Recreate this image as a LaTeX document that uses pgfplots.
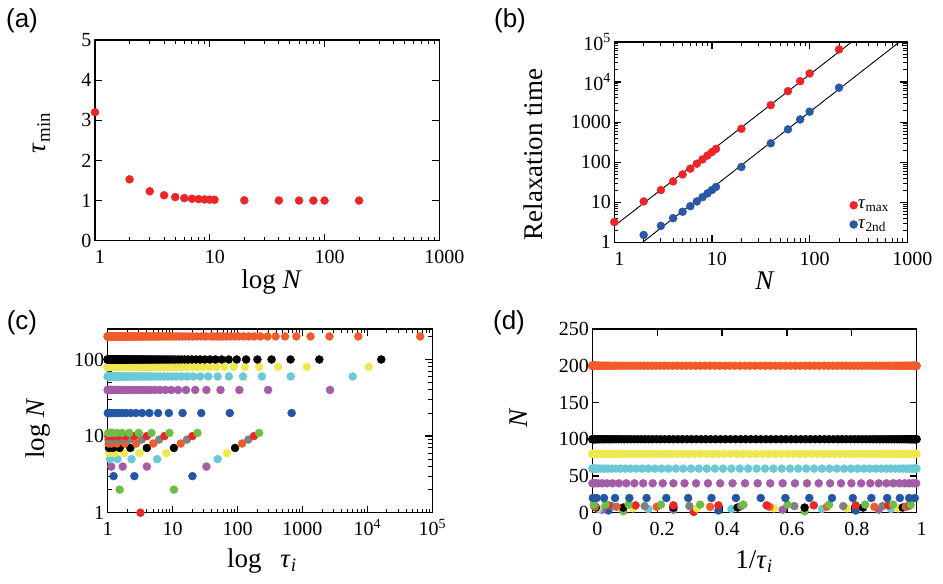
\documentclass[border=0pt]{standalone}
\usepackage{fontspec}
\setmainfont{Liberation Serif}
\newfontfamily\panelfont{Liberation Sans}
\usepackage{pgfplots}
\usepackage{pgfplotstable}
\pgfplotsset{compat=1.18}

\definecolor{cRed}{RGB}{235,38,40}
\definecolor{cGreen}{RGB}{110,190,70}
\definecolor{cBlue}{RGB}{36,86,166}
\definecolor{cPurple}{RGB}{164,92,166}
\definecolor{cCyan}{RGB}{106,201,212}
\definecolor{cYellow}{RGB}{236,232,78}
\definecolor{cOrange}{RGB}{241,90,41}
\definecolor{cGray}{RGB}{128,128,128}
\definecolor{cBlueB}{RGB}{42,88,168}

\pgfplotscreateplotcyclelist{ninecolors}{%
cRed,mark=*\\cGreen,mark=*\\cBlue,mark=*\\cPurple,mark=*\\cCyan,mark=*\\cYellow,mark=*\\black,mark=*\\cOrange,mark=*\\cGray,mark=*\\}

\pgfplotsset{
  panel/.style={
    scale only axis, clip=false, anchor=south west,
    axis line style={line width=1.5pt},
    tick align=inside,
    major tick length=7pt, minor tick length=4pt,
    tick style={black, line width=1.2pt},
    minor tick style={line width=1pt},
    tick label style={font=\fontsize{20}{20}\selectfont},
    xticklabel style={anchor=base, yshift=-23pt},
    label style={font=\fontsize{27}{27}\selectfont},
    xlabel style={anchor=base},
    ylabel style={anchor=center},
    /pgf/number format/assume math mode=true,
  },
  shiftlabels/.style={xticklabel style={xshift=5pt}},
  dots/.style={only marks, mark=*, mark size=4pt},
}

% rates 1/tau_i of every chain length N (one table per N)
\pgfplotstableread[row sep=\\]{N r\\ 1 0.3125\\}\TabA
\pgfplotstableread[row sep=\\]{N r\\ 2 0.09549\\ 2 0.65451\\}\TabB
\pgfplotstableread[row sep=\\]{N r\\ 3 0.04952\\ 3 0.38874\\ 3 0.81174\\}\TabC
\pgfplotstableread[row sep=\\]{N r\\ 4 0.030154\\ 4 0.25\\ 4 0.586824\\ 4 0.883022\\}\TabD
\pgfplotstableread[row sep=\\]{N r\\ 5 0.020254\\ 5 0.17257\\ 5 0.42884\\ 5 0.70771\\ 5 0.92063\\}\TabE
\pgfplotstableread[row sep=\\]{N r\\ 6 0.014529\\ 6 0.12574\\ 6 0.32269\\ 6 0.56027\\ 6 0.78404\\ 6 0.94274\\}\TabF
\pgfplotstableread[row sep=\\]{N r\\ 7 0.010926\\ 7 0.095492\\ 7 0.25\\ 7 0.447736\\ 7 0.654508\\ 7 0.834565\\ 7 0.956773\\}\TabG
\pgfplotstableread[row sep=\\]{N r\\ 8 0.008514\\ 8 0.07489\\ 8 0.19868\\ 8 0.36317\\ 8 0.54613\\ 8 0.72287\\ 8 0.86952\\ 8 0.96623\\}\TabH
\pgfplotstableread[row sep=\\]{N r\\ 9 0.0068195\\ 9 0.06026\\ 9 0.16136\\ 9 0.29915\\ 9 0.45871\\ 9 0.62275\\ 9 0.77348\\ 9 0.89457\\ 9 0.97291\\}\TabI
\pgfplotstableread[row sep=\\]{N r\\ 10 0.005585\\ 10 0.049516\\ 10 0.13348\\ 10 0.25\\ 10 0.38874\\ 10 0.53737\\ 10 0.68267\\ 10 0.81174\\ 10 0.91312\\ 10 0.97779\\}\TabJ
\pgfplotstableread[row sep=\\]{N r\\ 11 0.004657\\ 11 0.04140\\ 11 0.11214\\ 11 0.21166\\ 11 0.33256\\ 11 0.46588\\ 11 0.60173\\ 11 0.73003\\ 11 0.84128\\ 11 0.92721\\ 11 0.98146\\}\TabK
\pgfplotstableread[row sep=\\]{N r\\
20 0.001467\\ 20 0.013153\\ 20 0.03625\\ 20 0.07022\\ 20 0.11426\\ 20 0.16734\\ 20 0.22821\\ 20 0.29547\\ 20 0.36751\\ 20 0.44266\\
20 0.51915\\ 20 0.59520\\ 20 0.66901\\ 20 0.73886\\ 20 0.80311\\ 20 0.86026\\ 20 0.90896\\ 20 0.94808\\ 20 0.97670\\ 20 0.99414\\}\TabL
\pgfplotstableread[row sep=\\]{N r\\
40 0.00037602\\ 40 0.003381\\ 40 0.009372\\ 40 0.018314\\ 40 0.030154\\ 40 0.044818\\ 40 0.062220\\ 40 0.082256\\ 40 0.104805\\ 40 0.12973\\
40 0.15688\\ 40 0.18610\\ 40 0.21719\\ 40 0.25\\ 40 0.28431\\ 40 0.31992\\ 40 0.35660\\ 40 0.39415\\ 40 0.43233\\ 40 0.47093\\
40 0.50970\\ 40 0.54841\\ 40 0.58682\\ 40 0.62472\\ 40 0.66187\\ 40 0.69804\\ 40 0.73302\\ 40 0.76661\\ 40 0.79858\\ 40 0.82876\\
40 0.85697\\ 40 0.88302\\ 40 0.90677\\ 40 0.92809\\ 40 0.94682\\ 40 0.96286\\ 40 0.97613\\ 40 0.98652\\ 40 0.99400\\ 40 0.99850\\}\TabM
\pgfplotstableread[row sep=\\]{N r\\
60 0.0001685\\ 60 0.001516\\ 60 0.004207\\ 60 0.008236\\ 60 0.013589\\ 60 0.020252\\ 60 0.028211\\ 60 0.037442\\ 60 0.047917\\ 60 0.059609\\
60 0.072496\\ 60 0.086524\\ 60 0.101678\\ 60 0.117910\\ 60 0.135152\\ 60 0.153398\\ 60 0.172557\\ 60 0.192624\\ 60 0.213499\\ 60 0.235157\\
60 0.257516\\ 60 0.280550\\ 60 0.304141\\ 60 0.328318\\ 60 0.352895\\ 60 0.377918\\ 60 0.403212\\ 60 0.428829\\ 60 0.454600\\ 60 0.480512\\
60 0.506460\\ 60 0.532418\\ 60 0.558248\\ 60 0.583956\\ 60 0.609414\\ 60 0.634603\\ 60 0.659409\\ 60 0.683780\\ 60 0.707668\\ 60 0.730991\\
60 0.753702\\ 60 0.775721\\ 60 0.797003\\ 60 0.817469\\ 60 0.837097\\ 60 0.855773\\ 60 0.873552\\ 60 0.890268\\ 60 0.906000\\ 60 0.920563\\
60 0.934064\\ 60 0.946320\\ 60 0.957462\\ 60 0.967272\\ 60 0.975907\\ 60 0.983171\\ 60 0.989229\\ 60 0.993869\\ 60 0.997302\\ 60 0.999260\\}\TabN
\pgfplotstableread[row sep=\\]{N r\\
80 0.00009518\\ 80 0.0008567\\ 80 0.002379\\ 80 0.004657\\ 80 0.007691\\ 80 0.011475\\ 80 0.016000\\ 80 0.021263\\ 80 0.027255\\ 80 0.033970\\
80 0.041392\\ 80 0.049511\\ 80 0.058322\\ 80 0.067798\\ 80 0.077936\\ 80 0.088715\\ 80 0.100122\\ 80 0.112131\\ 80 0.124743\\ 80 0.137923\\
80 0.151648\\ 80 0.165918\\ 80 0.180676\\ 80 0.195921\\ 80 0.211637\\ 80 0.227796\\ 80 0.244362\\ 80 0.261325\\ 80 0.278657\\ 80 0.296328\\
80 0.314284\\ 80 0.332537\\ 80 0.351045\\ 80 0.369773\\ 80 0.388702\\ 80 0.407810\\ 80 0.427062\\ 80 0.446424\\ 80 0.465861\\ 80 0.485335\\
80 0.504853\\ 80 0.524350\\ 80 0.543803\\ 80 0.563220\\ 80 0.582520\\ 80 0.601726\\ 80 0.620755\\ 80 0.639584\\ 80 0.658191\\ 80 0.676556\\
80 0.694672\\ 80 0.712488\\ 80 0.729999\\ 80 0.747153\\ 80 0.763946\\ 80 0.780307\\ 80 0.796235\\ 80 0.811693\\ 80 0.826717\\ 80 0.841219\\
80 0.855218\\ 80 0.868680\\ 80 0.881590\\ 80 0.893951\\ 80 0.905638\\ 80 0.916691\\ 80 0.927157\\ 80 0.936966\\ 80 0.946106\\ 80 0.954568\\
80 0.962361\\ 80 0.969457\\ 80 0.975808\\ 80 0.981427\\ 80 0.986307\\ 80 0.990423\\ 80 0.993830\\ 80 0.996503\\ 80 0.998421\\ 80 0.999600\\}\TabO
\pgfplotstableread[row sep=\\]{N r\\
100 0.00006107\\ 100 0.00054954\\ 100 0.0015261\\ 100 0.0029899\\ 100 0.0049391\\ 100 0.0073721\\ 100 0.010286\\ 100 0.013678\\ 100 0.017545\\ 100 0.021883\\
100 0.026689\\ 100 0.031959\\ 100 0.037686\\ 100 0.043863\\ 100 0.050488\\ 100 0.057549\\ 100 0.065043\\ 100 0.072963\\ 100 0.081299\\ 100 0.090044\\
100 0.099192\\ 100 0.108731\\ 100 0.118653\\ 100 0.128951\\ 100 0.139607\\ 100 0.150608\\ 100 0.161957\\ 100 0.173635\\ 100 0.185630\\ 100 0.197934\\
100 0.210536\\ 100 0.223422\\ 100 0.236582\\ 100 0.25\\ 100 0.263650\\ 100 0.277530\\ 100 0.291628\\ 100 0.305930\\ 100 0.320427\\ 100 0.335104\\
100 0.349942\\ 100 0.364927\\ 100 0.380043\\ 100 0.395274\\ 100 0.410599\\ 100 0.426008\\ 100 0.441491\\ 100 0.457037\\ 100 0.472629\\ 100 0.488249\\
100 0.503884\\ 100 0.519515\\ 100 0.535130\\ 100 0.550689\\ 100 0.566204\\ 100 0.581647\\ 100 0.597024\\ 100 0.612305\\ 100 0.627478\\ 100 0.642537\\
100 0.657452\\ 100 0.672216\\ 100 0.686818\\ 100 0.701199\\ 100 0.715395\\ 100 0.729383\\ 100 0.743153\\ 100 0.756684\\ 100 0.769971\\ 100 0.782984\\
100 0.795762\\ 100 0.808226\\ 100 0.820381\\ 100 0.832206\\ 100 0.843696\\ 100 0.854863\\ 100 0.865696\\ 100 0.876175\\ 100 0.886290\\ 100 0.896042\\
100 0.905407\\ 100 0.914361\\ 100 0.922883\\ 100 0.930941\\ 100 0.938699\\ 100 0.945966\\ 100 0.952808\\ 100 0.959218\\ 100 0.965182\\ 100 0.970698\\
100 0.975761\\ 100 0.980330\\ 100 0.984413\\ 100 0.988018\\ 100 0.991154\\ 100 0.993821\\ 100 0.996018\\ 100 0.997737\\ 100 0.998972\\ 100 0.999732\\}\TabP
\pgfplotstableread[row sep=\\]{N r\\
200 1.5344e-5\\ 200 1.3810e-4\\ 200 3.8357e-4\\ 200 7.5167e-4\\ 200 1.2424e-3\\ 200 1.8555e-3\\ 200 2.5909e-3\\ 200 3.4485e-3\\ 200 4.4280e-3\\ 200 5.5290e-3\\
200 6.7516e-3\\ 200 8.0951e-3\\ 200 9.5596e-3\\ 200 0.011144\\ 200 0.012849\\ 200 0.014674\\ 200 0.016617\\ 200 0.018679\\ 200 0.020860\\ 200 0.023158\\
200 0.025571\\ 200 0.030752\\ 200 0.036392\\ 200 0.042485\\ 200 0.049028\\ 200 0.056014\\ 200 0.063436\\ 200 0.071289\\ 200 0.079560\\ 200 0.088246\\
200 0.097339\\ 200 0.106826\\ 200 0.116697\\ 200 0.126943\\ 200 0.137556\\ 200 0.148520\\ 200 0.159834\\ 200 0.171483\\ 200 0.183454\\ 200 0.195737\\
200 0.208321\\ 200 0.221193\\ 200 0.234336\\ 200 0.247733\\ 200 0.261378\\ 200 0.275259\\ 200 0.289361\\ 200 0.303669\\ 200 0.318176\\ 200 0.332867\\
200 0.347722\\ 200 0.362727\\ 200 0.377849\\ 200 0.393090\\ 200 0.408442\\ 200 0.423884\\ 200 0.439399\\ 200 0.454981\\ 200 0.470608\\ 200 0.486271\\
200 0.501947\\ 200 0.517623\\ 200 0.533252\\ 200 0.548854\\ 200 0.564417\\ 200 0.579911\\ 200 0.595339\\ 200 0.610673\\ 200 0.625899\\ 200 0.641013\\
200 0.655987\\ 200 0.670799\\ 200 0.685428\\ 200 0.699868\\ 200 0.714120\\ 200 0.728167\\ 200 0.741993\\ 200 0.755585\\ 200 0.768926\\ 200 0.782017\\
200 0.794833\\ 200 0.807335\\ 200 0.819530\\ 200 0.831410\\ 200 0.842955\\ 200 0.854173\\ 200 0.865058\\ 200 0.875587\\ 200 0.885752\\ 200 0.895550\\
200 0.904962\\ 200 0.913936\\ 200 0.922499\\ 200 0.930660\\ 200 0.938397\\ 200 0.945702\\ 200 0.952578\\ 200 0.959021\\ 200 0.965015\\ 200 0.970558\\
200 0.975646\\ 200 0.980227\\ 200 0.984332\\ 200 0.987957\\ 200 0.991110\\ 200 0.993790\\ 200 0.996000\\ 200 0.997727\\ 200 0.998968\\ 200 0.999730\\}\TabQ

\begin{document}
\begin{tikzpicture}
\path[use as bounding box] (0,0) rectangle (943pt,584pt);

% (a) shortest relaxation time
\begin{axis}[panel, shiftlabels, at={(95pt,343.3pt)}, width=344.3pt, height=200.7pt,
  xmode=log, xmin=1, xmax=1000, ymin=0, ymax=5,
  xtick={1,10,100,1000}, xticklabels={1,10,100,1000},
  minor xtick={2,3,4,5,6,7,8,9,20,30,40,50,60,70,80,90,200,300,400,500,600,700,800,900},
  ytick={0,1,2,3,4,5}, yticklabels={0,1,2,3,4,5},
  xlabel={log \textit{N}}, ylabel={\textit{τ}\textsubscript{min}},
  xlabel style={at={(axis description cs:0.513,-0.236)}},
  ylabel style={at={(axis description cs:-0.155,0.537)}},
]
\addplot[dots, cRed] table[row sep=\\]{N t\\
1 3.2\\ 2 1.528\\ 3 1.232\\ 4 1.132\\ 5 1.086\\ 6 1.061\\ 7 1.045\\ 8 1.035\\ 9 1.028\\ 10 1.023\\ 11 1.019\\
20 1.006\\ 40 1.002\\ 60 1.001\\ 80 1.000\\ 100 1.000\\ 200 1.000\\};
\end{axis}

% (b) longest and second-longest relaxation times
\begin{axis}[panel, shiftlabels, at={(614.3pt,341.7pt)}, width=293pt, height=200.3pt,
  xmode=log, ymode=log, xmin=1, xmax=1000, ymin=1, ymax=100000,
  xtick={1,10,100,1000}, xticklabels={1,10,100,1000},
  minor xtick={2,3,4,5,6,7,8,9,20,30,40,50,60,70,80,90,200,300,400,500,600,700,800,900},
  ytick={1,10,100,1000,10000,100000},
  yticklabels={1,10,100,1000,10\textsuperscript{4},10\textsuperscript{5}},
  minor ytick={2,3,4,5,6,7,8,9,20,30,40,50,60,70,80,90,200,300,400,500,600,700,800,900,
    2000,3000,4000,5000,6000,7000,8000,9000,20000,30000,40000,50000,60000,70000,80000,90000},
  xlabel={\textit{N}}, ylabel={Relaxation time},
  xlabel style={at={(axis description cs:0.514,-0.238)}},
  ylabel style={at={(axis description cs:-0.2775,0.438)}},
  legend style={draw=none, fill=none, at={(0.95,0.05)}, anchor=south east,
    font=\fontsize{19}{19}\selectfont, row sep=8pt,
    nodes={inner sep=0.5pt},
    /tikz/every even column/.append style={column sep=5pt}},
  legend cell align=left,
]
\addplot[dots, cRed] table[row sep=\\]{N t\\
1 3.2\\ 2 10.47\\ 3 20.19\\ 4 33.16\\ 5 49.37\\ 6 68.83\\ 7 91.52\\ 8 117.4\\ 9 146.6\\ 10 179.0\\ 11 214.7\\
20 681.6\\ 40 2659\\ 60 5935\\ 80 10506\\ 100 16374\\ 200 65170\\};
\addlegendentry{\textit{τ}\textsubscript{max}}
\addplot[dots, cBlueB] table[row sep=\\]{N t\\
2 1.528\\ 3 2.572\\ 4 4.000\\ 5 5.795\\ 6 7.953\\ 7 10.47\\ 8 13.35\\ 9 16.59\\ 10 20.20\\ 11 24.15\\
20 76.03\\ 40 295.8\\ 60 659.6\\ 80 1167\\ 100 1820\\ 200 7241\\};
\addlegendentry{\textit{τ}\textsubscript{2nd}}
% power-law fits
\addplot[forget plot, black, line width=0.9pt] coordinates {(1,2.56) (269,100000)};
\addplot[forget plot, black, line width=0.9pt] coordinates {(1.95,1) (830,100000)};
\end{axis}

% (c) all relaxation times, log-log
\begin{axis}[panel, at={(107.7pt,71.3pt)}, width=324.6pt, height=183.7pt,
  xmode=log, ymode=log, xmin=1, xmax=100000, ymin=1, ymax=250,
  xtick={1,10,100,1000,10000,100000},
  xticklabels={1,10,100,1000,10\textsuperscript{4},10\textsuperscript{5}},
  minor xtick={2,3,4,5,6,7,8,9,20,30,40,50,60,70,80,90,200,300,400,500,600,700,800,900,
    2000,3000,4000,5000,6000,7000,8000,9000,20000,30000,40000,50000,60000,70000,80000,90000},
  ytick={1,10,100}, yticklabels={1,10,100},
  minor ytick={2,3,4,5,6,7,8,9,20,30,40,50,60,70,80,90,200},
  xlabel={log\hspace{0.7em}\textit{τ}\textsubscript{\textit{i}}}, ylabel={log \textit{N}},
  xlabel style={at={(axis description cs:0.475,-0.301)}},
  ylabel style={at={(axis description cs:-0.216,0.458)}},
  cycle list name=ninecolors, only marks, mark size=4pt,
]
\addplot table[x expr={1/\thisrow{r}}, y=N]{\TabA};
\addplot table[x expr={1/\thisrow{r}}, y=N]{\TabB};
\addplot table[x expr={1/\thisrow{r}}, y=N]{\TabC};
\addplot table[x expr={1/\thisrow{r}}, y=N]{\TabD};
\addplot table[x expr={1/\thisrow{r}}, y=N]{\TabE};
\addplot table[x expr={1/\thisrow{r}}, y=N]{\TabF};
\addplot table[x expr={1/\thisrow{r}}, y=N]{\TabG};
\addplot table[x expr={1/\thisrow{r}}, y=N]{\TabH};
\addplot table[x expr={1/\thisrow{r}}, y=N]{\TabI};
\addplot table[x expr={1/\thisrow{r}}, y=N]{\TabJ};
\addplot table[x expr={1/\thisrow{r}}, y=N]{\TabK};
\addplot table[x expr={1/\thisrow{r}}, y=N]{\TabL};
\addplot table[x expr={1/\thisrow{r}}, y=N]{\TabM};
\addplot table[x expr={1/\thisrow{r}}, y=N]{\TabN};
\addplot table[x expr={1/\thisrow{r}}, y=N]{\TabO};
\addplot table[x expr={1/\thisrow{r}}, y=N]{\TabP};
\addplot table[x expr={1/\thisrow{r}}, y=N]{\TabQ};
\end{axis}

% (d) all relaxation rates, linear
\begin{axis}[panel, shiftlabels, at={(592.3pt,71.3pt)}, width=324.4pt, height=183.7pt,
  xmin=0, xmax=1, ymin=0, ymax=250,
  xtick={0,0.2,0.4,0.6,0.8,1}, xticklabels={0,0.2,0.4,0.6,0.8,1},
  ytick={0,50,100,150,200,250}, yticklabels={0,50,100,150,200,250},
  xlabel={1/\textit{τ}\textsubscript{\textit{i}}}, ylabel={\textit{N}},
  xlabel style={at={(axis description cs:0.4985,-0.303)}},
  ylabel style={at={(axis description cs:-0.226,0.518)}},
  cycle list name=ninecolors, only marks, mark size=4pt,
]
\addplot table[x=r, y=N]{\TabA};
\addplot table[x=r, y=N]{\TabB};
\addplot table[x=r, y=N]{\TabC};
\addplot table[x=r, y=N]{\TabD};
\addplot table[x=r, y=N]{\TabE};
\addplot table[x=r, y=N]{\TabF};
\addplot table[x=r, y=N]{\TabG};
\addplot table[x=r, y=N]{\TabH};
\addplot table[x=r, y=N]{\TabI};
\addplot table[x=r, y=N]{\TabJ};
\addplot table[x=r, y=N]{\TabK};
\addplot table[x=r, y=N]{\TabL};
\addplot table[x=r, y=N]{\TabM};
\addplot table[x=r, y=N]{\TabN};
\addplot table[x=r, y=N]{\TabO};
\addplot table[x=r, y=N]{\TabP};
\addplot table[x=r, y=N]{\TabQ};
\end{axis}

\node[font=\panelfont\fontsize{26}{26}\selectfont] at (22pt,563pt) {(a)};
\node[font=\panelfont\fontsize{26}{26}\selectfont] at (510pt,563pt) {(b)};
\node[font=\panelfont\fontsize{26}{26}\selectfont] at (22pt,261pt) {(c)};
\node[font=\panelfont\fontsize{26}{26}\selectfont] at (509pt,261pt) {(d)};
\end{tikzpicture}
\end{document}
